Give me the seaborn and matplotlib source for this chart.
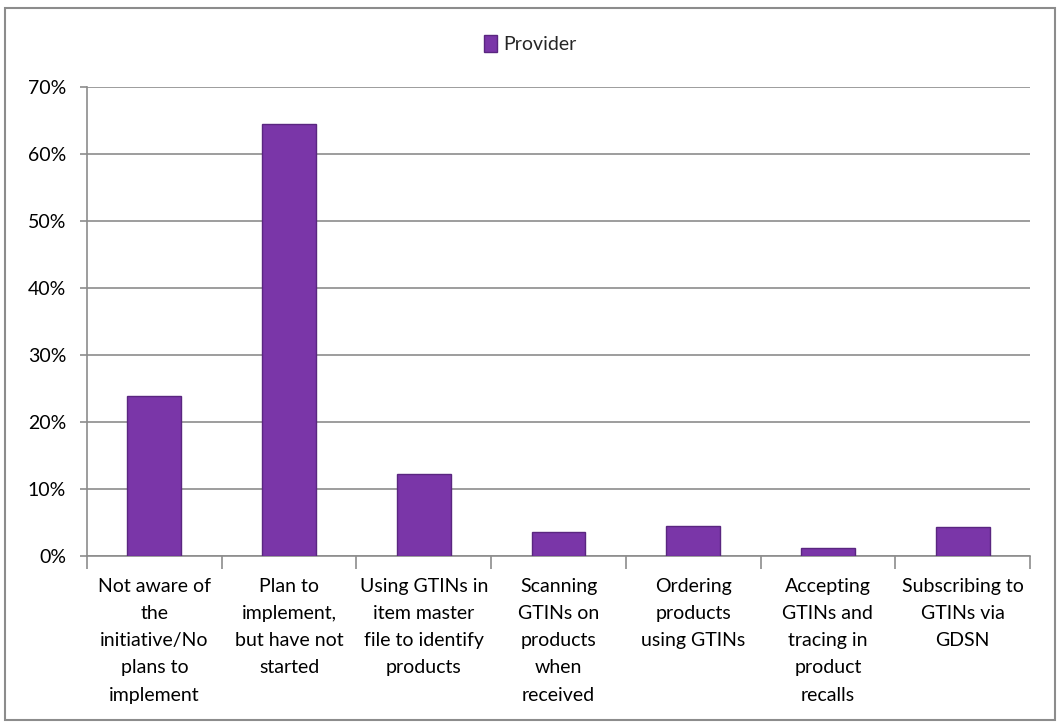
import matplotlib
matplotlib.use("Agg")
import matplotlib.pyplot as plt
import seaborn as sns
import pandas as pd
from matplotlib.ticker import FuncFormatter, FixedLocator
from matplotlib.patches import Rectangle

categories = [
    "Not aware of\nthe\ninitiative/No\nplans to\nimplement",
    "Plan to\nimplement,\nbut have not\nstarted",
    "Using GTINs in\nitem master\nfile to identify\nproducts",
    "Scanning\nGTINs on\nproducts\nwhen\nreceived",
    "Ordering\nproducts\nusing GTINs",
    "Accepting\nGTINs and\ntracing in\nproduct\nrecalls",
    "Subscribing to\nGTINs via\nGDSN",
]
values = [0.239, 0.645, 0.122, 0.036, 0.045, 0.012, 0.043]
series_name = "Provider"

sns.set_theme(style="white")
plt.rcParams['font.family'] = ['Lato', 'DejaVu Sans']

fig = plt.figure(figsize=(10.6, 7.23), dpi=100)
ax = fig.add_axes([87/1060, 1-556/723, (1030-87)/1060, (556-87)/723])

df = pd.DataFrame({"cat": categories, "val": values})
sns.barplot(data=df, x="cat", y="val", color="#7A36A8", saturation=1, width=0.4,
            edgecolor="#5A2680", linewidth=1.0, label=series_name, ax=ax, zorder=3)

ax.set_ylim(0, 0.70)
ax.set_xlim(-0.5, len(categories) - 0.5)
ax.yaxis.set_major_locator(FixedLocator([i / 10 for i in range(8)]))
ax.yaxis.set_major_formatter(FuncFormatter(lambda v, p: f"{v*100:.0f}%"))
ax.grid(axis="y", color="#8C8C8C", linewidth=1.2, zorder=0)
ax.set_axisbelow(True)
ax.set_xlabel("")
ax.set_ylabel("")

for s in ["top", "right"]:
    ax.spines[s].set_visible(False)
for s in ["left", "bottom"]:
    ax.spines[s].set_color("#8C8C8C")
    ax.spines[s].set_linewidth(1.2)

ax.tick_params(axis="y", labelsize=14, colors="#8C8C8C", labelcolor="black",
               length=5, width=1.2, left=True, direction="out", pad=10)
ax.tick_params(axis="x", which="major", length=0, labelsize=14, labelcolor="black", pad=16)
for t in ax.get_xticklabels():
    t.set_linespacing(1.72)
    t.set_verticalalignment("top")
ax.xaxis.set_minor_locator(FixedLocator([i + 0.5 for i in range(-1, len(categories))]))
ax.tick_params(axis="x", which="minor", bottom=True, length=9, width=1.2, color="#8C8C8C", direction="out")

leg = ax.legend(loc="upper center", bbox_to_anchor=(0.5, (723-18)/723), bbox_transform=fig.transFigure,
                frameon=False, fontsize=14, handlelength=0.7, handleheight=0.9, handletextpad=0.3)

fig.patches.append(Rectangle((5/1060, 1-720/723), 1050/1060, 712/723, transform=fig.transFigure,
                             fill=False, edgecolor="#8C8C8C", linewidth=1.5))

fig.savefig("out.png", dpi=100)
